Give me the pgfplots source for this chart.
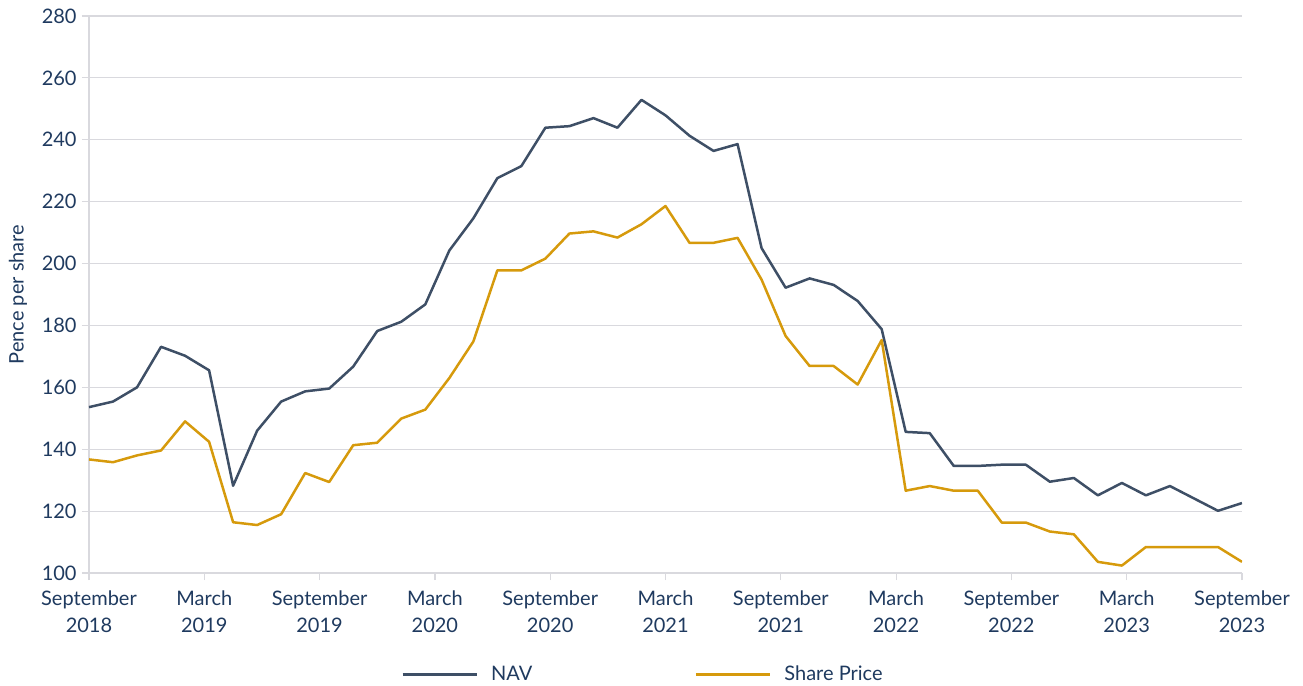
\documentclass[border=0pt]{standalone}
\usepackage{pgfplots}
\usepackage{pgfplotstable}
\pgfplotsset{compat=1.18}
\usepackage{fontspec}
\setmainfont{Lato}
\definecolor{navc}{HTML}{3E4F66}
\definecolor{spc}{HTML}{D69A0C}
\definecolor{txt}{HTML}{1F3A5F}
\definecolor{gridc}{HTML}{D9D9DE}

\pgfplotstableread{
k nav sp
0 153.6 136.7
1 155.4 135.8
2 160.0 138.0
3 173.1 139.6
4 170.2 149.0
5 165.5 142.4
6 128.2 116.4
7 146.0 115.5
8 155.4 119.0
9 158.7 132.3
10 159.6 129.4
11 166.7 141.3
12 178.2 142.1
13 181.2 149.9
14 186.8 152.8
15 204.2 163.0
16 214.6 174.8
17 227.6 197.8
18 231.5 197.8
19 243.9 201.6
20 244.4 209.7
21 247.0 210.4
22 243.9 208.4
23 252.9 212.7
24 247.9 218.6
25 241.3 206.7
26 236.4 206.7
27 238.6 208.3
28 205.0 194.8
29 192.2 176.6
30 195.2 166.9
31 193.1 166.9
32 187.9 160.9
33 178.8 175.3
34 145.6 126.6
35 145.2 128.1
36 134.6 126.6
37 134.6 126.6
38 135.0 116.3
39 135.0 116.3
40 129.5 113.4
41 130.7 112.5
42 125.1 103.6
43 129.1 102.4
44 125.1 108.4
45 128.1 108.4
46 124.1 108.4
47 120.1 108.4
48 122.6 103.6
}\data

\begin{document}
\begin{tikzpicture}
\useasboundingbox (-44.5pt,-56.5pt) rectangle (607pt,286.5pt);
\begin{axis}[
  scale only axis, width=576.5pt, height=278.5pt,
  xmin=0, xmax=48, ymin=100, ymax=280,
  ytick={100,120,...,280},
  xtick={0,4.8,9.6,14.4,19.2,24,28.8,33.6,38.4,43.2,48},
  xticklabels={{September\\2018},{March\\2019},{September\\2019},{March\\2020},{September\\2020},{March\\2021},{September\\2021},{March\\2022},{September\\2022},{March\\2023},{September\\2023}},
  /pgf/number format/assume math mode=true,
  xticklabel style={align=center, font=\fontsize{10}{13.5}\selectfont, text=txt, inner sep=0pt, yshift=-5pt},
  yticklabel style={font=\fontsize{10}{12}\selectfont, text=txt, inner sep=0pt, xshift=-2.5pt},
  ymajorgrids, grid style={gridc, line width=0.6pt},
  axis lines*=left,
  axis line style={gridc, line width=0.6pt},
  tick style={gridc, line width=0.6pt},
  tick align=outside, major tick length=3.5pt,
  ylabel={Pence per share},
  every axis y label/.style={at={(rel axis cs:0,0.5)}, xshift=-35.5pt, rotate=90, anchor=center, font=\fontsize{10}{12}\selectfont, text=txt},
  legend columns=2,
  legend style={at={(0.4795,-0.183)}, anchor=center, draw=none, fill=none,
    font=\fontsize{10}{12}\selectfont, text=txt,
    /tikz/every odd column/.append style={column sep=6.5pt},
    /tikz/every even column/.append style={column sep=81pt},
    nodes={inner sep=0pt}},
  legend image code/.code={\draw[#1, line width=1.5pt] (0pt,0pt) -- (37pt,0pt);},
]
\addplot[navc, line width=1.25pt, line join=round] table[x=k, y=nav] {\data};
\addlegendentry{NAV}
\addplot[spc, line width=1.25pt, line join=round] table[x=k, y=sp] {\data};
\addlegendentry{Share Price}
\end{axis}
\end{tikzpicture}
\end{document}
